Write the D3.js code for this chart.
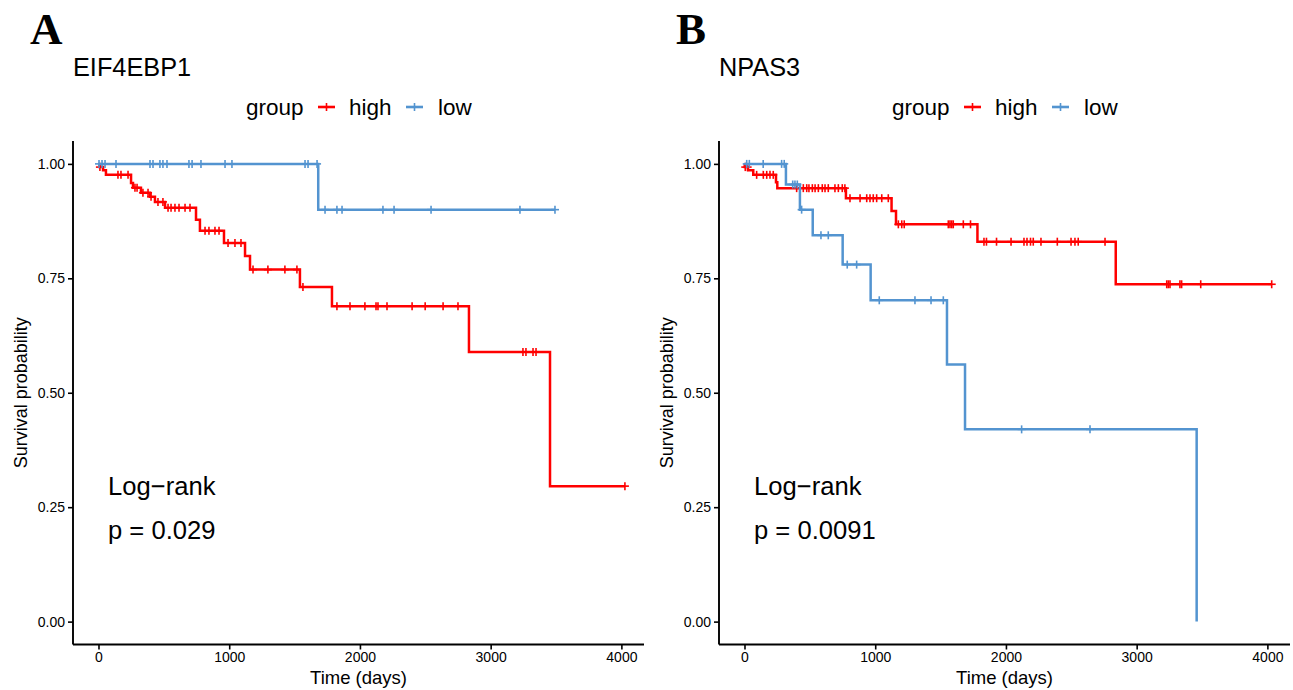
<!DOCTYPE html>
<html>
<head>
<meta charset="utf-8">
<script src="https://cdn.jsdelivr.net/npm/d3@7"></script>
<style>
  html, body { margin: 0; padding: 0; background: #fff; }
  svg { display: block; }
  text { font-family: "Liberation Sans", Arial, sans-serif; }
</style>
</head>
<body>
<svg id="chart" width="1293" height="690"></svg>
<script>
// ---------------- DATA ----------------
const xTicks = [0, 1000, 2000, 3000, 4000];
const yTicks = [0, 0.25, 0.5, 0.75, 1];
const yTickLabels = ["0.00", "0.25", "0.50", "0.75", "1.00"];
const groupNames = ["high", "low"];
const groupColors = ["#FF0000", "#5394D0"];

const panelLetters = ["A", "B"];
const panelTitles = ["EIF4EBP1", "NPAS3"];
const pValues = ["p = 0.029", "p = 0.0091"];

// Panel A – high
const aHighTime = [8, 35, 57, 249, 264, 325, 394, 432, 509, 746, 776, 960, 1121, 1159, 1541, 1786, 2834, 3454];
const aHighSurv = [0.993, 0.986, 0.976, 0.958, 0.948, 0.937, 0.928, 0.917, 0.904, 0.878, 0.854, 0.827, 0.799, 0.769, 0.731, 0.689, 0.589, 0.296];
const aHighCensor = [11, 149, 172, 226, 279, 295, 340, 379, 402, 455, 493, 532, 555, 585, 616, 662, 700, 815, 845, 891, 922, 991, 1044, 1090, 1182, 1296, 1426, 1518, 1564, 1824, 1924, 2038, 2123, 2138, 2207, 2399, 2499, 2636, 2750, 3247, 3270, 3324, 3347, 4027];
// Panel A – low
const aLowTime = [1681];
const aLowSurv = [0.9];
const aLowCensor = [4, 27, 50, 134, 394, 417, 470, 493, 524, 692, 716, 784, 968, 1021, 1580, 1603, 1672, 1733, 1824, 1863, 2176, 2261, 2544, 3224, 3492];

// Panel B – high
const bHighTime = [2, 27, 67, 241, 251, 776, 1125, 1159, 1782, 2840];
const bHighSurv = [0.993, 0.986, 0.976, 0.96, 0.947, 0.925, 0.897, 0.868, 0.83, 0.737];
const bHighCensor = [6, 24, 93, 144, 170, 195, 220, 399, 425, 450, 476, 493, 519, 540, 565, 595, 616, 641, 692, 718, 748, 768, 807, 884, 935, 960, 985, 1011, 1050, 1100, 1177, 1203, 1222, 1559, 1572, 1585, 1597, 1674, 1729, 1832, 1851, 1928, 2039, 2138, 2161, 2188, 2209, 2268, 2393, 2498, 2528, 2553, 2758, 3230, 3242, 3255, 3331, 3344, 3490, 4033];
// Panel B – low
const bLowTime = [317, 424, 522, 751, 965, 1549, 1687, 3459];
const bLowSurv = [0.955, 0.90, 0.844, 0.78, 0.702, 0.5616, 0.42, 0];
const bLowCensor = [17, 37, 143, 284, 304, 369, 386, 404, 437, 585, 641, 786, 858, 1031, 1304, 1427, 1521, 2120, 2643];

const panelSeries = [
  [[aHighTime, aHighSurv, aHighCensor], [aLowTime, aLowSurv, aLowCensor]],
  [[bHighTime, bHighSurv, bHighCensor], [bLowTime, bLowSurv, bLowCensor]]
];

// ---------------- LAYOUT ----------------
const svg = d3.select("#chart");
const panelOffset = 646;
const plotLeft = 73, plotRight = 644, plotTop = 141, plotBottom = 644.5;

function survAt(times, survs, t) {
  let s = 1;
  for (let i = 0; i < times.length; i++) { if (times[i] <= t) s = survs[i]; }
  return s;
}

panelSeries.forEach((series, pi) => {
  const g = svg.append("g").attr("transform", `translate(${pi * panelOffset},0)`);

  const x = d3.scaleLinear().domain([-195, 4173]).range([plotLeft, plotRight]);
  const y = d3.scaleLinear().domain([-0.05, 1.05]).range([plotBottom, plotTop]);

  // panel letter
  g.append("text").attr("x", 30).attr("y", 44)
    .style("font-family", "'Liberation Serif', 'Times New Roman', serif")
    .style("font-weight", "bold").style("font-size", "45px").text(panelLetters[pi]);

  // title
  g.append("text").attr("x", 73).attr("y", 76).style("font-size", "25.3px").text(panelTitles[pi]);

  // legend
  const lg = g.append("g");
  lg.append("text").attr("x", 246).attr("y", 115).style("font-size", "22.5px").text("group");
  const keyX = [318, 406], labX = [349, 438];
  groupNames.forEach((nm, gi) => {
    lg.append("line").attr("x1", keyX[gi]).attr("x2", keyX[gi] + 17).attr("y1", 107).attr("y2", 107)
      .attr("stroke", groupColors[gi]).attr("stroke-width", 2.6);
    lg.append("line").attr("x1", keyX[gi] + 8.5).attr("x2", keyX[gi] + 8.5).attr("y1", 103).attr("y2", 111)
      .attr("stroke", groupColors[gi]).attr("stroke-width", 1.6);
    lg.append("text").attr("x", labX[gi]).attr("y", 115).style("font-size", "22.5px").text(nm);
  });

  // axes
  const xAxis = d3.axisBottom(x).tickValues(xTicks).tickSize(5).tickPadding(3).tickFormat(d3.format("d"));
  const yAxis = d3.axisLeft(y).tickValues(yTicks).tickSize(5).tickPadding(3)
    .tickFormat((d, i) => yTickLabels[i]);

  const gx = g.append("g").attr("transform", `translate(0,${plotBottom})`).call(xAxis);
  const gy = g.append("g").attr("transform", `translate(${plotLeft},0)`).call(yAxis);
  [gx, gy].forEach(ax => {
    ax.select(".domain").attr("stroke", "#000").attr("stroke-width", 1.9);
    ax.selectAll(".tick line").attr("stroke", "#000").attr("stroke-width", 1.6);
    ax.selectAll(".tick text").attr("fill", "#000").style("font-size", "14px")
      .style("font-family", "'Liberation Sans', Arial, sans-serif");
  });
  gx.select(".domain").attr("d", `M${plotLeft},0H${plotRight}`);
  gy.select(".domain").attr("d", `M0,${plotTop}V${plotBottom}`);

  // axis titles
  g.append("text").attr("x", (plotLeft + plotRight) / 2).attr("y", 684).attr("text-anchor", "middle")
    .style("font-size", "18.5px").text("Time (days)");
  g.append("text").attr("transform", `translate(27,${(plotTop + plotBottom) / 2}) rotate(-90)`)
    .attr("text-anchor", "middle").style("font-size", "18px").text("Survival probability");

  // curves
  const line = d3.line().x(d => x(d[0])).y(d => y(d[1])).curve(d3.curveStepAfter);
  series.forEach(([times, survs, cens], gi) => {
    const pts = [[0, 1]];
    times.forEach((t, i) => pts.push([t, survs[i]]));
    const tEnd = Math.max(d3.max(times), d3.max(cens));
    pts.push([tEnd, survAt(times, survs, tEnd)]);
    g.append("path").attr("d", line(pts)).attr("fill", "none")
      .attr("stroke", groupColors[gi]).attr("stroke-width", 2.5);

    const cg = g.append("g").attr("stroke", groupColors[gi]).attr("stroke-width", 1.6);
    cens.forEach(c => {
      const cx = x(c), cy = y(survAt(times, survs, c));
      cg.append("line").attr("x1", cx - 4).attr("x2", cx + 4).attr("y1", cy).attr("y2", cy);
      cg.append("line").attr("x1", cx).attr("x2", cx).attr("y1", cy - 4).attr("y2", cy + 4);
    });
  });

  // log-rank annotation
  g.append("text").attr("x", 108).attr("y", 495).style("font-size", "25.6px").text("Log\u2212rank");
  g.append("text").attr("x", 108).attr("y", 539).style("font-size", "25.6px").text(pValues[pi]);
});
</script>
</body>
</html>
